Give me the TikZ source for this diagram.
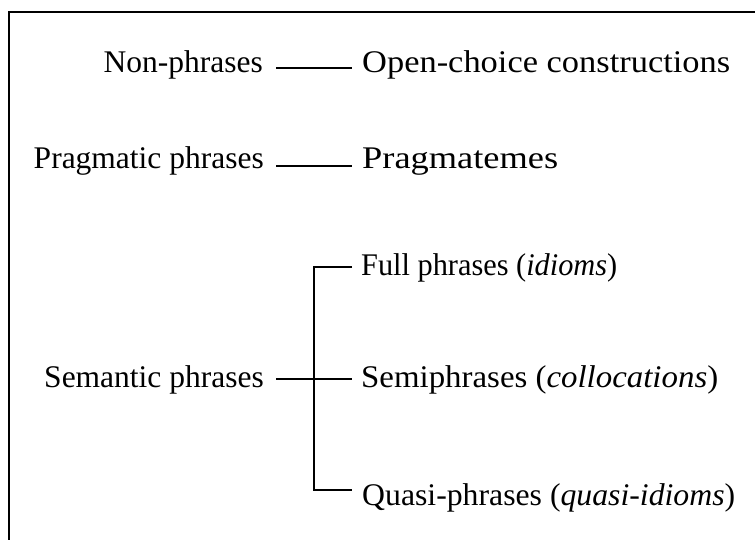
\documentclass[tikz,border=0pt]{standalone}
\usepackage{fontspec}
\setmainfont{Liberation Serif}
\newcommand\fitwidth[2]{\resizebox{#1}{\height}{#2}}
\begin{document}
\begin{tikzpicture}[x=1pt,y=-1pt,
  lbl/.style={inner sep=0pt,font=\fontsize{31.5}{36}\selectfont},
  leftlbl/.style={lbl,anchor=base east},
  rightlbl/.style={lbl,anchor=base west},
  conn/.style={line width=1.8pt,line cap=butt,line join=miter},
  frameline/.style={line width=2pt}]
\useasboundingbox (0,0) rectangle (755,539);
% frame (only top and left edges visible)
\coordinate (fr1) at (9,545);
\coordinate (fr2) at (9,12);
\coordinate (fr3) at (760,12);
\draw[frameline] (fr1) -- (fr2) -- (fr3);
% labels
\node[leftlbl] (np) at (263,72) {Non-phrases};
\node[rightlbl] (oc) at (362,72) {\fitwidth{368pt}{Open-choice constructions}};
\node[leftlbl] (pp) at (264,168) {Pragmatic phrases};
\node[rightlbl] (pm) at (362,168) {\fitwidth{196pt}{Pragmatemes}};
\node[leftlbl] (sp) at (264,387) {Semantic phrases};
\node[rightlbl] (fp) at (361,275) {\fitwidth{256pt}{Full phrases (\textit{idioms})}};
\node[rightlbl] (se) at (361,387) {\fitwidth{357pt}{Semiphrases (\textit{collocations})}};
\node[rightlbl] (qp) at (362,505) {\fitwidth{373pt}{Quasi-phrases (\textit{quasi-idioms})}};
% connector ends
\coordinate (np1) at (276,67.7);
\coordinate (oc1) at (352,67.7);
\coordinate (pp1) at (276,166);
\coordinate (pm1) at (352,166);
\coordinate (sp1) at (276,379);
\coordinate (se1) at (352,379);
\coordinate (fp1) at (352,267);
\coordinate (qp1) at (352,490);
\coordinate (vt) at (314,267);
\coordinate (vb) at (314,490);
\draw[conn] (np1) -- (oc1);
\draw[conn] (pp1) -- (pm1);
\draw[conn] (sp1) -- (se1);
\draw[conn] (fp1) -- (vt) -- (vb) -- (qp1);
\end{tikzpicture}
\end{document}
